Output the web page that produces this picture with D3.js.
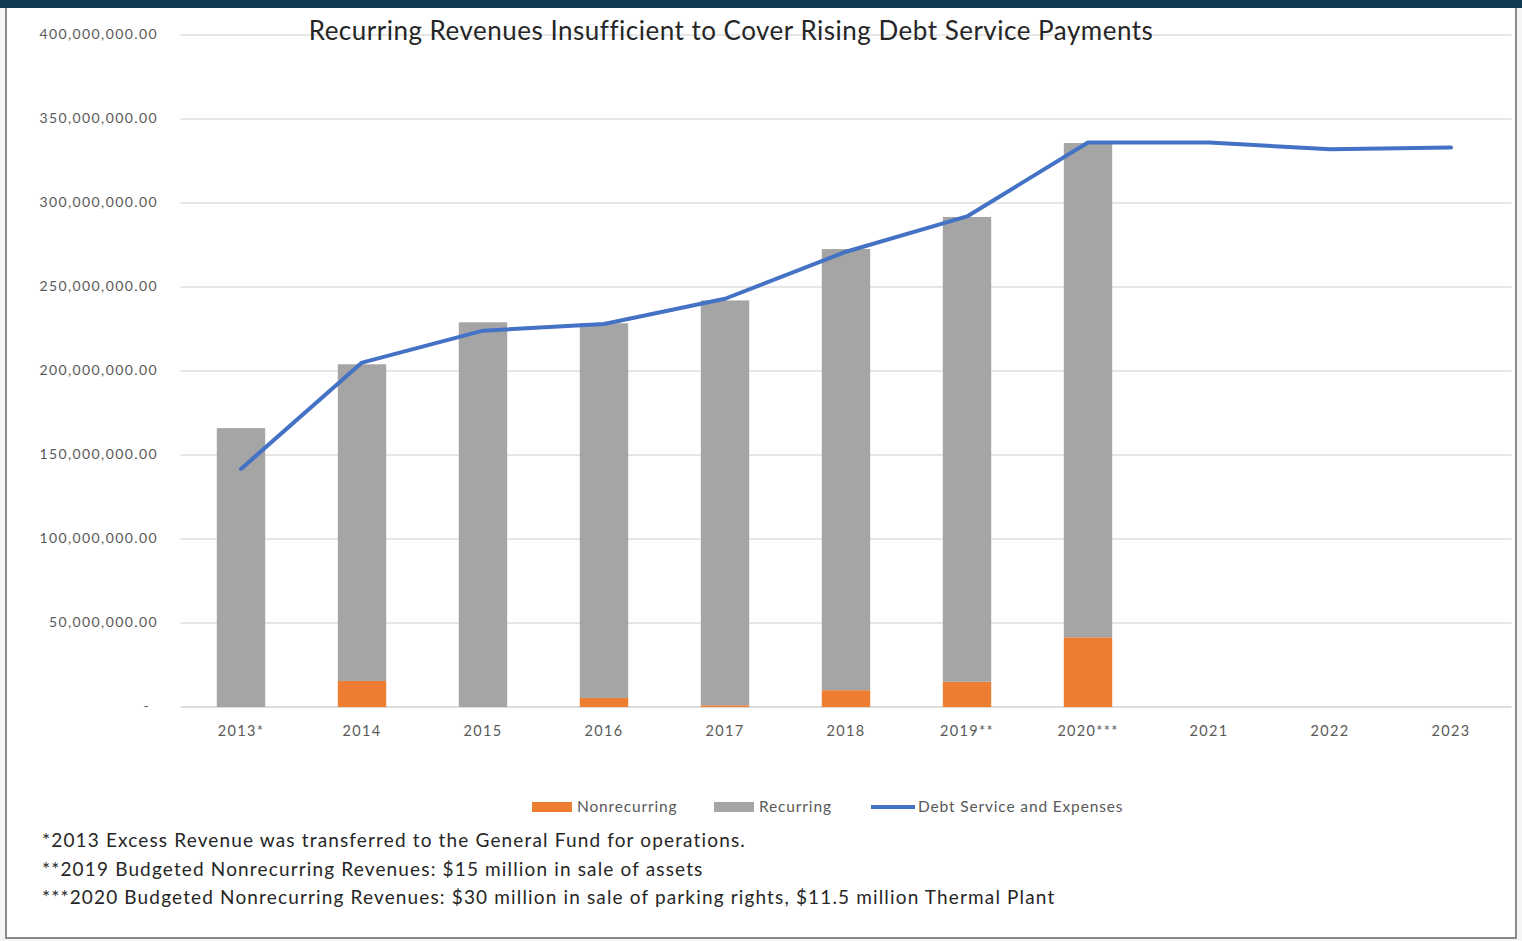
<!DOCTYPE html>
<html>
<head>
<meta charset="utf-8">
<script src="https://cdn.jsdelivr.net/npm/d3@7"></script>
<style>
  body { margin: 0; background: #fff; }
  text { font-family: Lato, "Open Sans", sans-serif; }
</style>
</head>
<body>
<div id="chart"></div>
<script>
// chart values
var years = ['2013*', '2014', '2015', '2016', '2017', '2018', '2019**', '2020***', '2021', '2022', '2023'];
var nonrecurring = [0, 15500000, 0, 5400000, 1000000, 10000000, 15000000, 41500000, null, null, null];
var recurring = [166000000, 188500000, 229000000, 223000000, 241000000, 262600000, 276700000, 294200000, null, null, null];
var debtService = [141700000, 205000000, 224000000, 228000000, 243000000, 271000000, 292000000, 336000000, 336000000, 332000000, 333000000];
var yTicks = [0, 50000000, 100000000, 150000000, 200000000, 250000000, 300000000, 350000000, 400000000];
var footnotes = [
  '*2013 Excess Revenue was transferred to the General Fund for operations.',
  '**2019 Budgeted Nonrecurring Revenues: $15 million in sale of assets',
  '***2020 Budgeted Nonrecurring Revenues: $30 million in sale of parking rights, $11.5 million Thermal Plant'
];

var W = 1522, H = 941;
var margin = {left: 180.5, right: 10.5, top: 35, bottom: 234};

var svg = d3.select('#chart').append('svg')
  .attr('width', W).attr('height', H);

// frame
svg.append('rect').attr('x', 0).attr('y', 0).attr('width', W).attr('height', H).attr('fill', '#f4f6f7');
svg.append('rect').attr('x', 6).attr('y', 6).attr('width', 1510).attr('height', 932)
  .attr('fill', '#fff').attr('stroke', '#8a8a8a').attr('stroke-width', 2);
svg.append('rect').attr('x', 0).attr('y', 0).attr('width', W).attr('height', 8).attr('fill', '#0f3a52');

var x = d3.scaleBand().domain(years)
  .range([margin.left, W - margin.right]).paddingInner(0.6).paddingOuter(0.3);
var y = d3.scaleLinear().domain([0, 400000000]).range([H - margin.bottom, margin.top]);

// gridlines
svg.append('g').selectAll('line').data(yTicks).enter().append('line')
  .attr('x1', margin.left).attr('x2', W - margin.right)
  .attr('y1', function(d) { return y(d); }).attr('y2', function(d) { return y(d); })
  .attr('stroke', function(d) { return d === 0 ? '#d0d0d0' : '#dedede'; })
  .attr('stroke-width', 1.3);

// y axis labels
var fmt = d3.format(',.2f');
svg.append('g').selectAll('text').data(yTicks).enter().append('text')
  .attr('x', function(d) { return d === 0 ? 150 : 158; })
  .attr('y', function(d) { return y(d) + 4; })
  .attr('text-anchor', 'end')
  .attr('font-size', 14).attr('letter-spacing', 1.4).attr('fill', '#595959')
  .text(function(d) { return d === 0 ? '-' : fmt(d); });

// x axis labels
svg.append('g').selectAll('text').data(years).enter().append('text')
  .attr('x', function(d) { return x(d) + x.bandwidth() / 2; })
  .attr('y', 736)
  .attr('text-anchor', 'middle')
  .attr('font-size', 14.5).attr('letter-spacing', 1.3).attr('fill', '#595959')
  .text(function(d) { return d; });

// stacked bars
var rows = years.map(function(yr, i) {
  return {year: yr, nonrecurring: nonrecurring[i] || 0, recurring: recurring[i] || 0};
});
var stack = d3.stack().keys(['nonrecurring', 'recurring'])(rows);
var colors = {nonrecurring: '#ed7d31', recurring: '#a5a5a5'};

svg.append('g').selectAll('g').data(stack).enter().append('g')
  .attr('fill', function(s) { return colors[s.key]; })
  .selectAll('rect').data(function(s) { return s; }).enter().append('rect')
    .attr('x', function(d) { return x(d.data.year); })
    .attr('width', x.bandwidth())
    .attr('y', function(d) { return y(d[1]); })
    .attr('height', function(d) { return y(d[0]) - y(d[1]); });

// debt service line
var line = d3.line()
  .x(function(d, i) { return x(years[i]) + x.bandwidth() / 2; })
  .y(function(d) { return y(d); });

svg.append('path').datum(debtService)
  .attr('d', line)
  .attr('fill', 'none')
  .attr('stroke', '#4472c4')
  .attr('stroke-width', 4)
  .attr('stroke-linejoin', 'round')
  .attr('stroke-linecap', 'round');

// title
svg.append('text')
  .attr('x', 731).attr('y', 40)
  .attr('text-anchor', 'middle')
  .attr('font-size', 26).attr('letter-spacing', 0.5).attr('fill', '#262626')
  .text('Recurring Revenues Insufficient to Cover Rising Debt Service Payments');

// legend
var legend = svg.append('g').attr('transform', 'translate(0,807)')
  .attr('font-size', 15.5).attr('letter-spacing', 0.85).attr('fill', '#595959');
legend.append('rect').attr('x', 532).attr('y', -5).attr('width', 40).attr('height', 10).attr('fill', colors.nonrecurring);
legend.append('text').attr('x', 577).attr('y', 5).text('Nonrecurring');
legend.append('rect').attr('x', 714).attr('y', -5).attr('width', 40).attr('height', 10).attr('fill', colors.recurring);
legend.append('text').attr('x', 759).attr('y', 5).text('Recurring');
legend.append('line').attr('x1', 871).attr('x2', 915).attr('y1', 0).attr('y2', 0)
  .attr('stroke', '#4472c4').attr('stroke-width', 4);
legend.append('text').attr('x', 918).attr('y', 5).text('Debt Service and Expenses');

// footnotes
svg.append('g').selectAll('text').data(footnotes).enter().append('text')
  .attr('x', 42)
  .attr('y', function(d, i) { return 847 + i * 28.5; })
  .attr('font-size', 19).attr('letter-spacing', 1.15).attr('fill', '#262626')
  .text(function(d) { return d; });
</script>
</body>
</html>
